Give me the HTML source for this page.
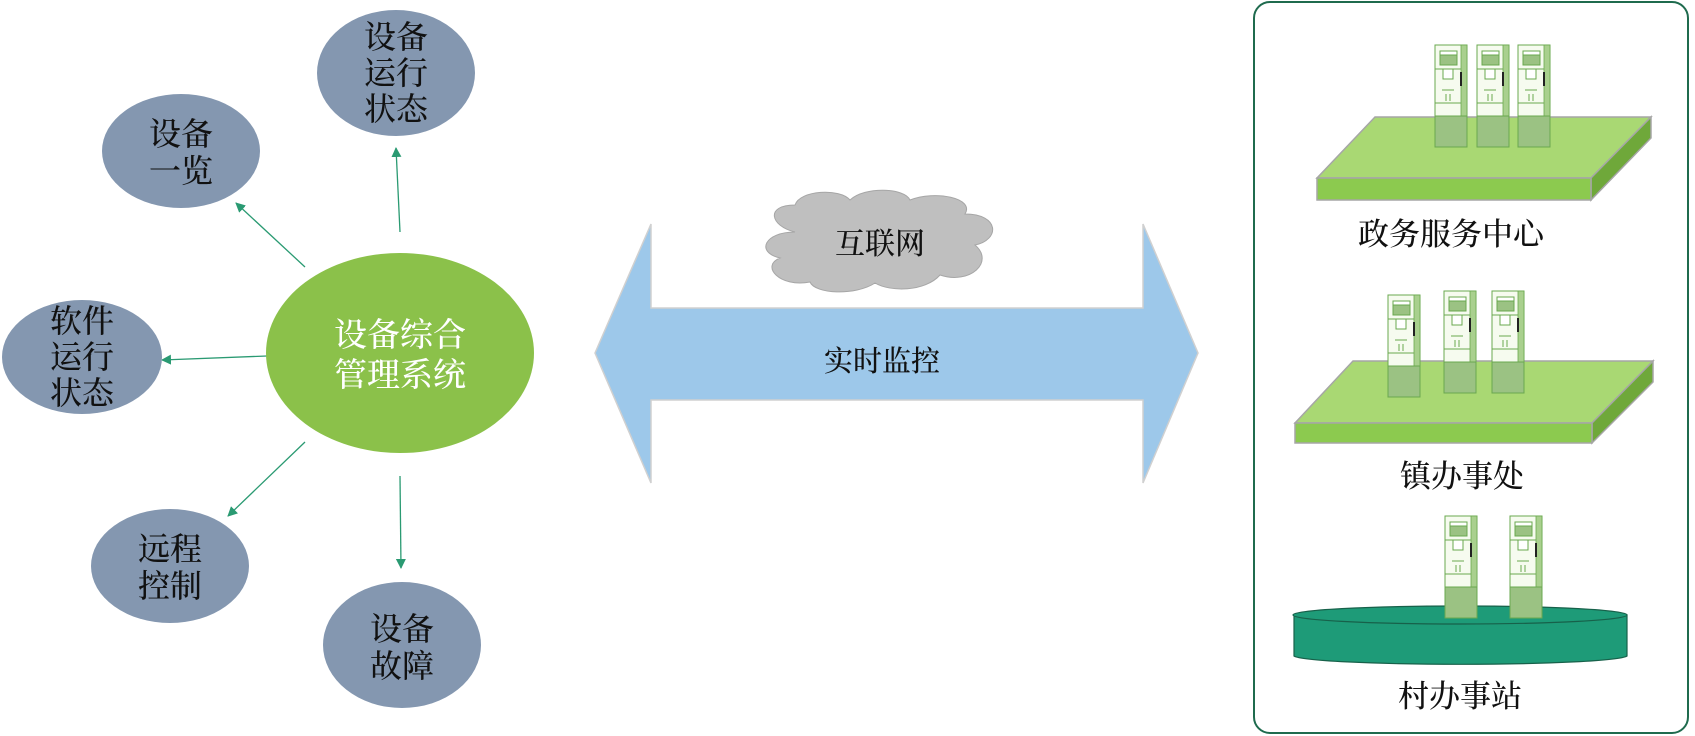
<!DOCTYPE html>
<html><head><meta charset="utf-8"><style>
html,body{margin:0;padding:0;background:#fff}
svg{display:block}
text{font-family:"Liberation Serif","Noto Serif CJK SC","Noto Sans CJK SC",serif}
</style></head><body>
<svg width="1695" height="736" viewBox="0 0 1695 736" xmlns="http://www.w3.org/2000/svg">
<defs>
<marker id="ah" markerWidth="10" markerHeight="10" refX="9" refY="5" orient="auto" markerUnits="userSpaceOnUse">
<path d="M0,0 L10,5 L0,10 Z" fill="#2a9a72"/></marker>
<g id="k">
<rect x="0" y="0" width="32" height="102" fill="#f6fbef" stroke="#6aa84f" stroke-width="1"/>
<rect x="26" y="0" width="6" height="71" fill="#a9d08e" stroke="#6aa84f" stroke-width="0.8"/>
<rect x="5" y="6" width="17" height="14" fill="#fff" stroke="#6aa84f"/>
<rect x="5" y="10" width="17" height="10" fill="#9bc283" stroke="#6aa84f"/>
<line x1="0" y1="24" x2="26" y2="24" stroke="#6aa84f"/>
<rect x="8" y="24" width="10" height="10" fill="#fff" stroke="#6aa84f"/>
<rect x="25" y="27" width="2" height="14" fill="#222"/>
<line x1="7" y1="45" x2="19" y2="45" stroke="#6aa84f"/>
<line x1="11" y1="49" x2="11" y2="56" stroke="#6aa84f"/>
<line x1="15" y1="49" x2="15" y2="56" stroke="#6aa84f"/>
<line x1="0" y1="58" x2="26" y2="58" stroke="#6aa84f"/>
<rect x="0" y="71" width="32" height="31" fill="#9bc283" stroke="#6aa84f"/>
</g>
</defs>

<g stroke="#2a9a72" stroke-width="1.3" fill="none" marker-end="url(#ah)">
<line x1="400" y1="232" x2="396" y2="148"/>
<line x1="305" y1="267" x2="236" y2="203"/>
<line x1="267" y1="356" x2="162" y2="360"/>
<line x1="305" y1="442" x2="228" y2="516"/>
<line x1="400" y1="476" x2="401" y2="568"/>
</g>

<g fill="#8497b0">
<ellipse cx="396" cy="73" rx="79" ry="63"/>
<ellipse cx="181" cy="151" rx="79" ry="57"/>
<ellipse cx="82" cy="357" rx="80" ry="57"/>
<ellipse cx="170" cy="566" rx="79" ry="57"/>
<ellipse cx="402" cy="645" rx="79" ry="63"/>
</g>
<ellipse cx="400" cy="353" rx="134" ry="100" fill="#8bc14a"/>

<g font-size="32" text-anchor="middle" fill="#111" font-weight="500">
<text x="396" y="48">设备</text><text x="396" y="84">运行</text><text x="396" y="120">状态</text>
<text x="181" y="145">设备</text><text x="181" y="182">一览</text>
<text x="82" y="332">软件</text><text x="82" y="368">运行</text><text x="82" y="404">状态</text>
<text x="170" y="560">远程</text><text x="170" y="597">控制</text>
<text x="402" y="640">设备</text><text x="402" y="677">故障</text>
</g>
<g font-size="33" text-anchor="middle" fill="#fff" font-weight="500">
<text x="400" y="346">设备综合</text><text x="400" y="386">管理系统</text>
</g>

<path d="M595,353 L651,224 L651,308 L1143,308 L1143,224 L1198,353 L1143,483 L1143,400 L651,400 L651,483 Z" fill="#9dc8ea" stroke="#d0d0d0" stroke-width="1.5"/>
<text x="882" y="371" font-size="29" text-anchor="middle" fill="#111" font-weight="500">实时监控</text>

<g fill="#bfbfbf" stroke="#a6a6a6" stroke-width="1">
<path d="M795,232 C770,226 765,205 795,205 C800,190 840,188 850,200 C865,186 905,188 910,200 C935,190 975,198 965,214 C1000,214 1000,240 975,245 C995,262 970,285 940,275 C925,292 890,292 875,283 C855,296 815,294 810,282 C780,288 760,266 780,258 C755,252 765,232 795,232 Z"/>
</g>
<text x="880" y="254" font-size="30" text-anchor="middle" fill="#111" font-weight="500">互联网</text>

<rect x="1254" y="2" width="434" height="731" rx="16" fill="#fff" stroke="#1f6b4e" stroke-width="2"/>

<polygon points="1375,117 1651,117 1591,178 1317,178" fill="#a9d873" stroke="#a6a6a6" stroke-width="1.5"/>
<polygon points="1591,178 1651,117 1651,138 1591,200" fill="#6fa83a" stroke="#a6a6a6" stroke-width="1.5"/>
<rect x="1317" y="178" width="274" height="22" fill="#8cca4f" stroke="#a6a6a6" stroke-width="1.5"/>
<use href="#k" x="1435" y="45"/><use href="#k" x="1477" y="45"/><use href="#k" x="1518" y="45"/>
<text x="1451" y="245" font-size="31" text-anchor="middle" fill="#111" font-weight="500">政务服务中心</text>

<polygon points="1353,361 1653,361 1592,423 1295,423" fill="#a9d873" stroke="#a6a6a6" stroke-width="1.5"/>
<polygon points="1592,423 1653,361 1653,382 1592,443" fill="#6fa83a" stroke="#a6a6a6" stroke-width="1.5"/>
<rect x="1295" y="423" width="297" height="20" fill="#8cca4f" stroke="#a6a6a6" stroke-width="1.5"/>
<use href="#k" x="1388" y="295"/><use href="#k" x="1444" y="291"/><use href="#k" x="1492" y="291"/>
<text x="1462" y="487" font-size="31" text-anchor="middle" fill="#111" font-weight="500">镇办事处</text>

<path d="M1294,615 L1294,656 A167,9 0 0 0 1627,656 L1627,615 Z" fill="#1e9b78" stroke="#17614a" stroke-width="1.2"/>
<ellipse cx="1460" cy="615" rx="167" ry="9" fill="#1e9b78" stroke="#17614a" stroke-width="1.2"/>
<use href="#k" x="1445" y="516"/><use href="#k" x="1510" y="516"/>
<text x="1460" y="707" font-size="31" text-anchor="middle" fill="#111" font-weight="500">村办事站</text>
</svg>
</body></html>
